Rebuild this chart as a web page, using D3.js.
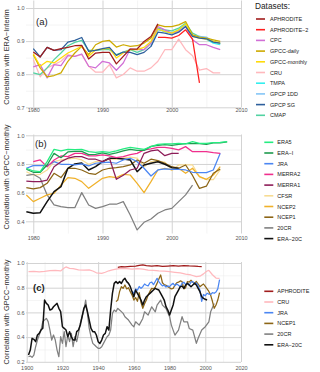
<!DOCTYPE html>
<html>
<head>
<meta charset="utf-8">
<script src="https://cdn.jsdelivr.net/npm/d3@7"></script>
<style>
  body { margin: 0; background: #fff; }
  text { font-family: "Liberation Sans", Arial, sans-serif; }
</style>
</head>
<body>
<div id="chart"></div>
<script>
// ---- panel (a): correlation with ERA-Interim ----
var yearsA = [1980,1981,1982,1983,1984,1985,1986,1987,1988,1989,1990,1991,1992,1993,
              1994,1995,1996,1997,1998,1999,2000,2001,2002,2003,2004,2005,2006,2007];
var aphroditeA   = [.867,.852,.881,.872,.877,.881,.886,.887,.846,.864,.866,.866,.831,.854,.876,.876,.899,.914,.952,null,null,null,null,null,null,null,null,null];
var aphrodite2A  = [null,null,null,null,null,null,null,null,null,null,null,null,null,null,null,null,null,null,.911,.911,.909,.917,.934,.906,.774,null,null,null];
var cpcA         = [.822,.829,.789,.829,.826,.856,.854,.861,.824,.819,.839,.834,.812,.834,.876,.874,.874,.894,.944,.934,.924,.929,.944,.904,.889,.889,.881,.874];
var gpccDailyA   = [.859,.819,.792,.796,.804,.839,.864,.884,.859,.889,.899,.902,.882,.889,.884,.886,.894,.909,.949,.944,.944,.949,.959,.919,.912,.909,.904,.899];
var gpccMonthlyA = [.862,.824,.839,.834,.849,.864,.874,.884,.854,.874,.876,.879,.849,.864,.874,.874,.881,.899,.936,.929,.924,.934,.952,.914,.909,.906,.899,.894];
var cruA         = [.844,.792,.819,.829,.839,.859,.854,.859,.824,.806,.806,.829,.789,.799,.819,.809,.809,.819,.839,.874,.874,.906,.874,.856,.812,.817,.804,.804];
var tmpaA        = [null,null,null,null,null,null,null,null,null,null,null,null,null,null,null,null,null,null,.936,.929,.924,.934,.952,.916,.912,.906,.894,.889];
var gpcp1ddA     = [null,null,null,null,null,null,null,null,null,null,null,null,null,null,null,null,null,.884,.934,.929,.924,.932,.949,.916,.914,.912,.899,.892];
var gpcpSgA      = [.877,.852,.881,.872,.874,.897,.902,.911,.869,.872,.877,.881,.857,.867,.866,.859,.866,.884,.927,.924,.919,.927,.944,.914,.909,.907,.897,.894];
var cmapA        = [.804,.799,.819,.844,.864,.886,.896,.902,.872,.872,.874,.874,.859,.867,.874,.866,.874,.894,.939,.934,.931,.939,.954,.924,.914,.909,.899,.892];

// ---- panel (b): reanalyses vs GPCC-monthly ----
var yearsB = [1979,1980,1981,1982,1983,1984,1985,1986,1987,1988,1989,1990,1991,1992,1993,
              1994,1995,1996,1997,1998,1999,2000,2001,2002,2003,2004,2005,2006,2007,2008];
var era5B    = [.770,.751,.747,.816,.902,.891,.902,.900,.902,.886,.881,.886,.881,.891,.905,.916,.909,.902,.921,.937,.940,.940,.944,.940,.956,.944,.944,.949,.951,.956];
var eraIB    = [.763,.742,.742,.793,.874,.844,.884,.888,.888,.865,.867,.877,.867,.877,.891,.902,.895,.895,.923,.930,.935,.930,.937,.942,.942,.942,.937,.947,.947,.954];
var jraB     = [.770,.788,.788,.788,.816,.798,.798,.793,.800,.786,.805,.809,.812,.805,.828,.840,.816,.770,.716,.758,.765,.763,.763,.758,.742,.740,.740,.758,.874,null];
var merra2B  = [null,.816,.828,.780,.828,.856,.851,.874,.874,.856,.856,.863,.856,.844,.851,.865,.874,.898,.905,.916,.916,.909,.898,.921,.886,.886,.886,.879,.874,null];
var merra1B  = [.681,.677,.677,.688,.781,.816,.840,.851,.851,.833,.833,.816,.840,.693,.721,.758,.770,.874,.891,.898,.858,.874,.874,null,null,null,null,null,null,null];
var cfsrB    = [.746,.723,.728,.758,.816,.828,.835,.840,.828,.798,.816,.816,.833,.833,.840,.847,.840,.781,.816,.816,.812,.758,.793,.793,.793,.712,.690,.690,.760,null];
var ncep2B   = [.584,.537,.561,.584,.595,.653,.705,.700,.677,.630,.665,.700,.712,.705,.728,.723,.665,.600,.677,.758,.770,.758,.770,.735,.770,.712,.693,.723,.781,null];
var ncep1B   = [.635,.626,.635,.665,.735,.705,.770,.770,.758,.735,.728,.758,.770,.774,.781,.793,.828,.805,.833,.823,.805,.781,.770,.793,.720,.630,.645,.735,.765,null];
var c20crB   = [.720,.728,.700,.584,.514,.502,.495,.495,.600,.514,.490,.502,.519,.519,.537,.444,.340,.393,.416,.456,.479,.490,.537,.584,.653,null,null,null,null,null];
var era20cB  = [.467,.456,.460,.537,.607,.642,.770,.800,.807,.758,.781,.816,.840,.840,.835,.828,.746,.793,.805,.816,.798,.774,.770,null,null,null,null,null,null,null];

// ---- panel (c): long records vs GPCC-monthly ----
var era20cYearsC = [1901,1902,1903,1904,1905,1906,1907,1908,1909,1910,1911,1912,1913,1914,1915,1916,1917,1918,1919,1920,
                    1921,1922,1923,1924,1925,1926,1927,1928,1929,1930,1931,1932,1933,1934,1935,1936,1937,1938,1939,1940,
                    1941,1942,1943,1944,1945,1946,1947,1948,1949,1950,1951,1952,1953,1954,1955,1956,1957,1958,1959,1960,
                    1961,1962,1963,1964,1965,1966,1967,1968,1969,1970,1971,1972,1973,1974,1975,1976,1977,1978,1979,1980,
                    1981,1982,1983,1984,1985,1986,1987,1988,1989,1990,1991,1992,1993,1994,1995,1996,1997,1998,1999,2000,2001];
var era20cC = [.255,.295,.390,.382,.363,.417,.430,.457,.471,.700,.673,.660,.619,.625,.646,.660,.673,.633,.606,.484,
               .471,.457,.403,.444,.403,.376,.376,.444,.457,.498,.565,.633,.660,.606,.538,.471,.444,.444,.417,.363,
               .349,.376,.417,.430,.484,.457,.619,.754,.835,.849,.835,.849,.835,.862,.876,.849,.835,.808,.768,.727,
               .781,.754,.727,.700,.660,.700,.727,.741,.754,.768,.781,.795,.787,.781,.754,.727,.700,.646,.619,.579,
               .619,.660,.727,.754,.781,.808,.813,.795,.822,.835,.822,.808,.822,.835,.822,.795,.768,.727,.714,.706,.700];
var c20crYearsC = [1901,1902,1903,1904,1905,1906,1907,1908,1909,1910,1911,1912,1913,1914,1915,1916,1917,1918,1919,1920,
                   1921,1922,1923,1924,1925,1926,1927,1928,1929,1930,1931,1932,1933,1934,1935,1936,1937,1938,1939,1940,
                   1941,1942,1943,1944,1945,1946,1947,1948,1949,1950,1951,1952,1953,1954,1955,1957,1959,1960,1961,1963,
                   1965,1966,1968,1970,1972,1973,1975,1976,1978,1980,1981,1983,1985,1987,1988,1990,1991,1993,1995,1996,
                   1998,2000,2002,2003,2005];
var c20crC = [.241,.247,.236,.255,.322,.376,.417,.457,.525,.538,.552,.525,.457,.376,.417,.376,.295,.241,.403,.349,
              .444,.322,.417,.363,.430,.322,.403,.363,.430,.511,.565,.619,.700,.592,.471,.403,.349,.336,.322,.309,
              .309,.322,.349,.376,.403,.417,.457,.592,.619,.606,.633,.619,.606,.592,.565,.538,.497,.484,.524,.497,
              .551,.605,.578,.645,.605,.659,.700,.659,.632,.565,.497,.416,.457,.565,.524,.524,.470,.457,.350,.390,
              .457,.484,.524,.605,.672];
var cruYearsC = [1901,1904,1907,1910,1913,1916,1919,1921,1922,1924,1926,1929,1932,1935,1937,1939,1942,1944,1946,1948,
                 1950,1953,1956,1959,1962,1965,1968,1971,1974,1977,1980,1983,1986,1989,1992,1995,1997,1999,2001,2002,
                 2004,2006,2008];
var cruC = [.930,.933,.928,.932,.938,.940,.936,.960,.968,.957,.955,.945,.943,.945,.935,.921,.916,.925,.937,.945,
            .950,.957,.955,.950,.955,.950,.943,.940,.937,.935,.930,.925,.920,.910,.903,.889,.893,.912,.935,.940,
            .905,.878,.876];
var aphroditeYearsC = [1951,1953,1955,1958,1961,1963,1965,1967,1970,1973,1976,1979,1982,1985,1988,1991,1994,1996,1998];
var aphroditeC = [.965,.970,.968,.972,.975,.980,.985,.978,.975,.978,.972,.975,.978,.975,.978,.976,.975,.972,.970];
var jraYearsC = [1959,1960,1961,1962,1963,1964,1965,1966,1967,1968,1969,1970,1971,1972,1973,1974,1975,1976,1977,1978,
                 1979,1980,1981,1982,1983,1984,1985,1986,1987,1988,1989,1990,1991,1992,1993,1994,1995,1996,1997,1998,
                 1999,2000,2001,2002,2003,2004,2005,2006,2007,2008];
var jraC = [.770,.755,.790,.780,.810,.795,.808,.830,.820,.815,.840,.845,.825,.850,.876,.850,.830,.815,.820,.805,
            .815,.808,.825,.835,.815,.830,.820,.808,.835,.845,.825,.835,.820,.845,.850,.830,.838,.815,.780,.690,
            .745,.735,.755,.748,.745,.760,.755,.765,.790,.865];
var ncep1YearsC = [1950,1951,1952,1953,1954,1955,1956,1957,1958,1959,1960,1961,1962,1963,1964,1965,1966,1967,1968,1969,
                   1970,1971,1972,1973,1974,1975,1976,1977,1978,1979,1980,1981,1982,1983,1984,1985,1986,1987,1988,1989,
                   1990,1991,1992,1993,1994,1995,1996,1997,1998,1999,2000,2001,2002,2003,2004,2005,2006,2007,2008];
var ncep1C = [.687,.700,.768,.808,.795,.822,.790,.800,.768,.740,.700,.720,.690,.760,.680,.633,.670,.700,.740,.770,
              .795,.790,.805,.835,.870,.903,.840,.825,.820,.808,.800,.790,.795,.820,.840,.845,.855,.850,.790,.800,
              .850,.845,.860,.845,.835,.850,.830,.808,.820,.830,.810,.790,.770,.740,.690,.633,.660,.700,.760];

// legend entries
var legendA = ["APHRODITE","APHRODITE−2","CPC","GPCC-daily","GPCC-monthly","CRU","TMPA","GPCP 1DD","GPCP SG","CMAP"];
var legendB = ["ERA5","ERA−I","JRA","MERRA2","MERRA1","CFSR","NCEP2","NCEP1","20CR","ERA−20C"];
var legendC = ["APHRODITE","CRU","JRA","NCEP1","20CR","ERA−20C"];

var colors = {
  "APHRODITE": "#a01c1c", "APHRODITE−2": "#ff1f1f", "CPC": "#d16fd6", "GPCC-daily": "#cdaa00",
  "GPCC-monthly": "#ffdb0a", "CRU": "#ffb8bd", "TMPA": "#33eeee", "GPCP 1DD": "#85c6f7",
  "GPCP SG": "#2d5f9c", "CMAP": "#52d3a2",
  "ERA5": "#25ec80", "ERA−I": "#1e9a4e", "JRA": "#4b86f2", "MERRA2": "#f02f8d", "MERRA1": "#8d1c58",
  "CFSR": "#f7dc93", "NCEP2": "#f0b12a", "NCEP1": "#8c6516", "20CR": "#808080", "ERA−20C": "#111111"
};

var svg = d3.select("#chart").append("svg").attr("width", 320).attr("height", 372);

var xAB = d3.scaleLinear().domain([1978.95, 2010]).range([26, 241]);
var xC  = d3.scaleLinear().domain([1899.6, 2020]).range([26, 241]);

var panels = [
  { x: xAB, y: d3.scaleLinear().domain([0.7, 1.0]).range([107.3, 8]),
    top: 0.5, bottom: 107.5,
    yMajor: [0.7, 0.8, 0.9, 1.0], yMinor: [0.75, 0.85, 0.95],
    xMajor: [1980, 1990, 2000, 2010], xMinor: [1985, 1995, 2005],
    xLabelBase: 111.5, tag: "(a)", tagX: 36, tagY: 24.5, bold: false,
    title: "Correlation with ERA−Interim", titleY: 57,
    series: [["CRU", yearsA, cruA], ["CMAP", yearsA, cmapA], ["GPCP 1DD", yearsA, gpcp1ddA],
             ["TMPA", yearsA, tmpaA], ["CPC", yearsA, cpcA], ["GPCC-daily", yearsA, gpccDailyA],
             ["GPCC-monthly", yearsA, gpccMonthlyA], ["GPCP SG", yearsA, gpcpSgA],
             ["APHRODITE−2", yearsA, aphrodite2A], ["APHRODITE", yearsA, aphroditeA]] },
  { x: xAB, y: d3.scaleLinear().domain([0.4, 1.0]).range([221.3, 135.3]),
    top: 134.5, bottom: 233.5,
    yMajor: [0.4, 0.6, 0.8, 1.0], yMinor: [0.5, 0.7, 0.9],
    xMajor: [1980, 1990, 2000, 2010], xMinor: [1985, 1995, 2005],
    xLabelBase: 240, tag: "(b)", tagX: 35, tagY: 146.5, bold: false,
    title: "Correlation with GPCC−monthly", titleY: 177,
    series: [["CFSR", yearsB, cfsrB], ["20CR", yearsB, c20crB], ["NCEP2", yearsB, ncep2B],
             ["NCEP1", yearsB, ncep1B], ["ERA−20C", yearsB, era20cB], ["JRA", yearsB, jraB],
             ["MERRA1", yearsB, merra1B], ["MERRA2", yearsB, merra2B], ["ERA−I", yearsB, eraIB],
             ["ERA5", yearsB, era5B]] },
  { x: xC, y: d3.scaleLinear().domain([0.2, 1.0]).range([361.8, 263]),
    top: 262, bottom: 362,
    yMajor: [0.2, 0.4, 0.6, 0.8, 1.0], yMinor: [0.3, 0.5, 0.7, 0.9],
    xMajor: [1900, 1920, 1940, 1960, 1980, 2000, 2020], xMinor: [1910, 1930, 1950, 1970, 1990, 2010],
    xLabelBase: 369.5, tag: "(c)", tagX: 33, tagY: 291, bold: true,
    title: "Correlation with GPCC−monthly", titleY: 312,
    series: [["CRU", cruYearsC, cruC], ["APHRODITE", aphroditeYearsC, aphroditeC],
             ["20CR", c20crYearsC, c20crC], ["NCEP1", ncep1YearsC, ncep1C],
             ["JRA", jraYearsC, jraC], ["ERA−20C", era20cYearsC, era20cC]] }
];

function drawPanel(p) {
  var g = svg.append("g");
  var x0 = p.x.range()[0], w = p.x.range()[1] - x0, h = p.bottom - p.top;

  // gridlines (minor first, then major)
  [["minor", p.xMinor, p.yMinor, "#ededed", 0.6], ["major", p.xMajor, p.yMajor, "#d3d3d3", 1]]
    .forEach(function(k) {
      var gx = g.append("g").attr("transform", "translate(0," + p.bottom + ")")
        .call(d3.axisBottom(p.x).tickValues(k[1]).tickSize(-h).tickFormat(""));
      var gy = g.append("g").attr("transform", "translate(" + x0 + ",0)")
        .call(d3.axisLeft(p.y).tickValues(k[2]).tickSize(-w).tickFormat(""));
      [gx, gy].forEach(function(a) {
        a.select(".domain").remove();
        a.selectAll("line").attr("stroke", k[3]).attr("stroke-width", k[4]);
      });
    });

  // tick labels
  var ly = g.append("g").attr("transform", "translate(24.6,0)")
    .call(d3.axisLeft(p.y).tickValues(p.yMajor).tickSize(0).tickPadding(0).tickFormat(d3.format(".1f")));
  var lx = g.append("g").attr("transform", "translate(0," + (p.xLabelBase - 0.71 * 5.5) + ")")
    .call(d3.axisBottom(p.x).tickValues(p.xMajor).tickSize(0).tickPadding(0).tickFormat(d3.format("d")));
  [ly, lx].forEach(function(a) {
    a.select(".domain").remove();
    a.selectAll("text").attr("font-size", 5.5).attr("fill", "#555")
      .style("font-family", "'Liberation Sans', Arial, sans-serif");
  });

  // lines
  var line = d3.line()
    .defined(function(d) { return d[1] != null; })
    .x(function(d) { return p.x(d[0]); })
    .y(function(d) { return p.y(d[1]); });

  p.series.forEach(function(s) {
    var pts = s[1].map(function(yr, i) { return [yr, s[2][i]]; });
    g.append("path").datum(pts)
      .attr("d", line)
      .attr("fill", "none")
      .attr("stroke", colors[s[0]])
      .attr("stroke-width", s[0] == "ERA−20C" ? 1.5 : 1.25)
      .attr("stroke-linejoin", "round");
  });

  // panel tag
  g.append("text").attr("x", p.tagX).attr("y", p.tagY)
    .attr("font-size", 9.5).attr("fill", "#222")
    .attr("font-weight", p.bold ? "bold" : "normal")
    .text(p.tag);

  // y title
  g.append("text")
    .attr("transform", "translate(9," + p.titleY + ") rotate(-90)")
    .attr("text-anchor", "middle").attr("font-size", 7.4).attr("fill", "#333")
    .text(p.title);
}

panels.forEach(drawPanel);

function drawLegend(names, keyX, textX, firstY, title) {
  var g = svg.append("g");
  if (title) {
    g.append("text").attr("x", 255).attr("y", 9).attr("font-size", 8.3).attr("fill", "#222").text(title);
  }
  names.forEach(function(n, i) {
    var cy = firstY + i * 10.7;
    g.append("line").attr("x1", keyX).attr("x2", keyX + 9).attr("y1", cy).attr("y2", cy)
      .attr("stroke", colors[n]).attr("stroke-width", 1.6);
    g.append("text").attr("x", textX).attr("y", cy + 2).attr("font-size", 5.5)
      .attr("fill", "#222").text(n);
  });
}

drawLegend(legendA, 256, 270, 19, "Datasets:");
drawLegend(legendB, 264.3, 277.3, 142.3);
drawLegend(legendC, 264.3, 277.3, 291.3);
</script>
</body>
</html>
